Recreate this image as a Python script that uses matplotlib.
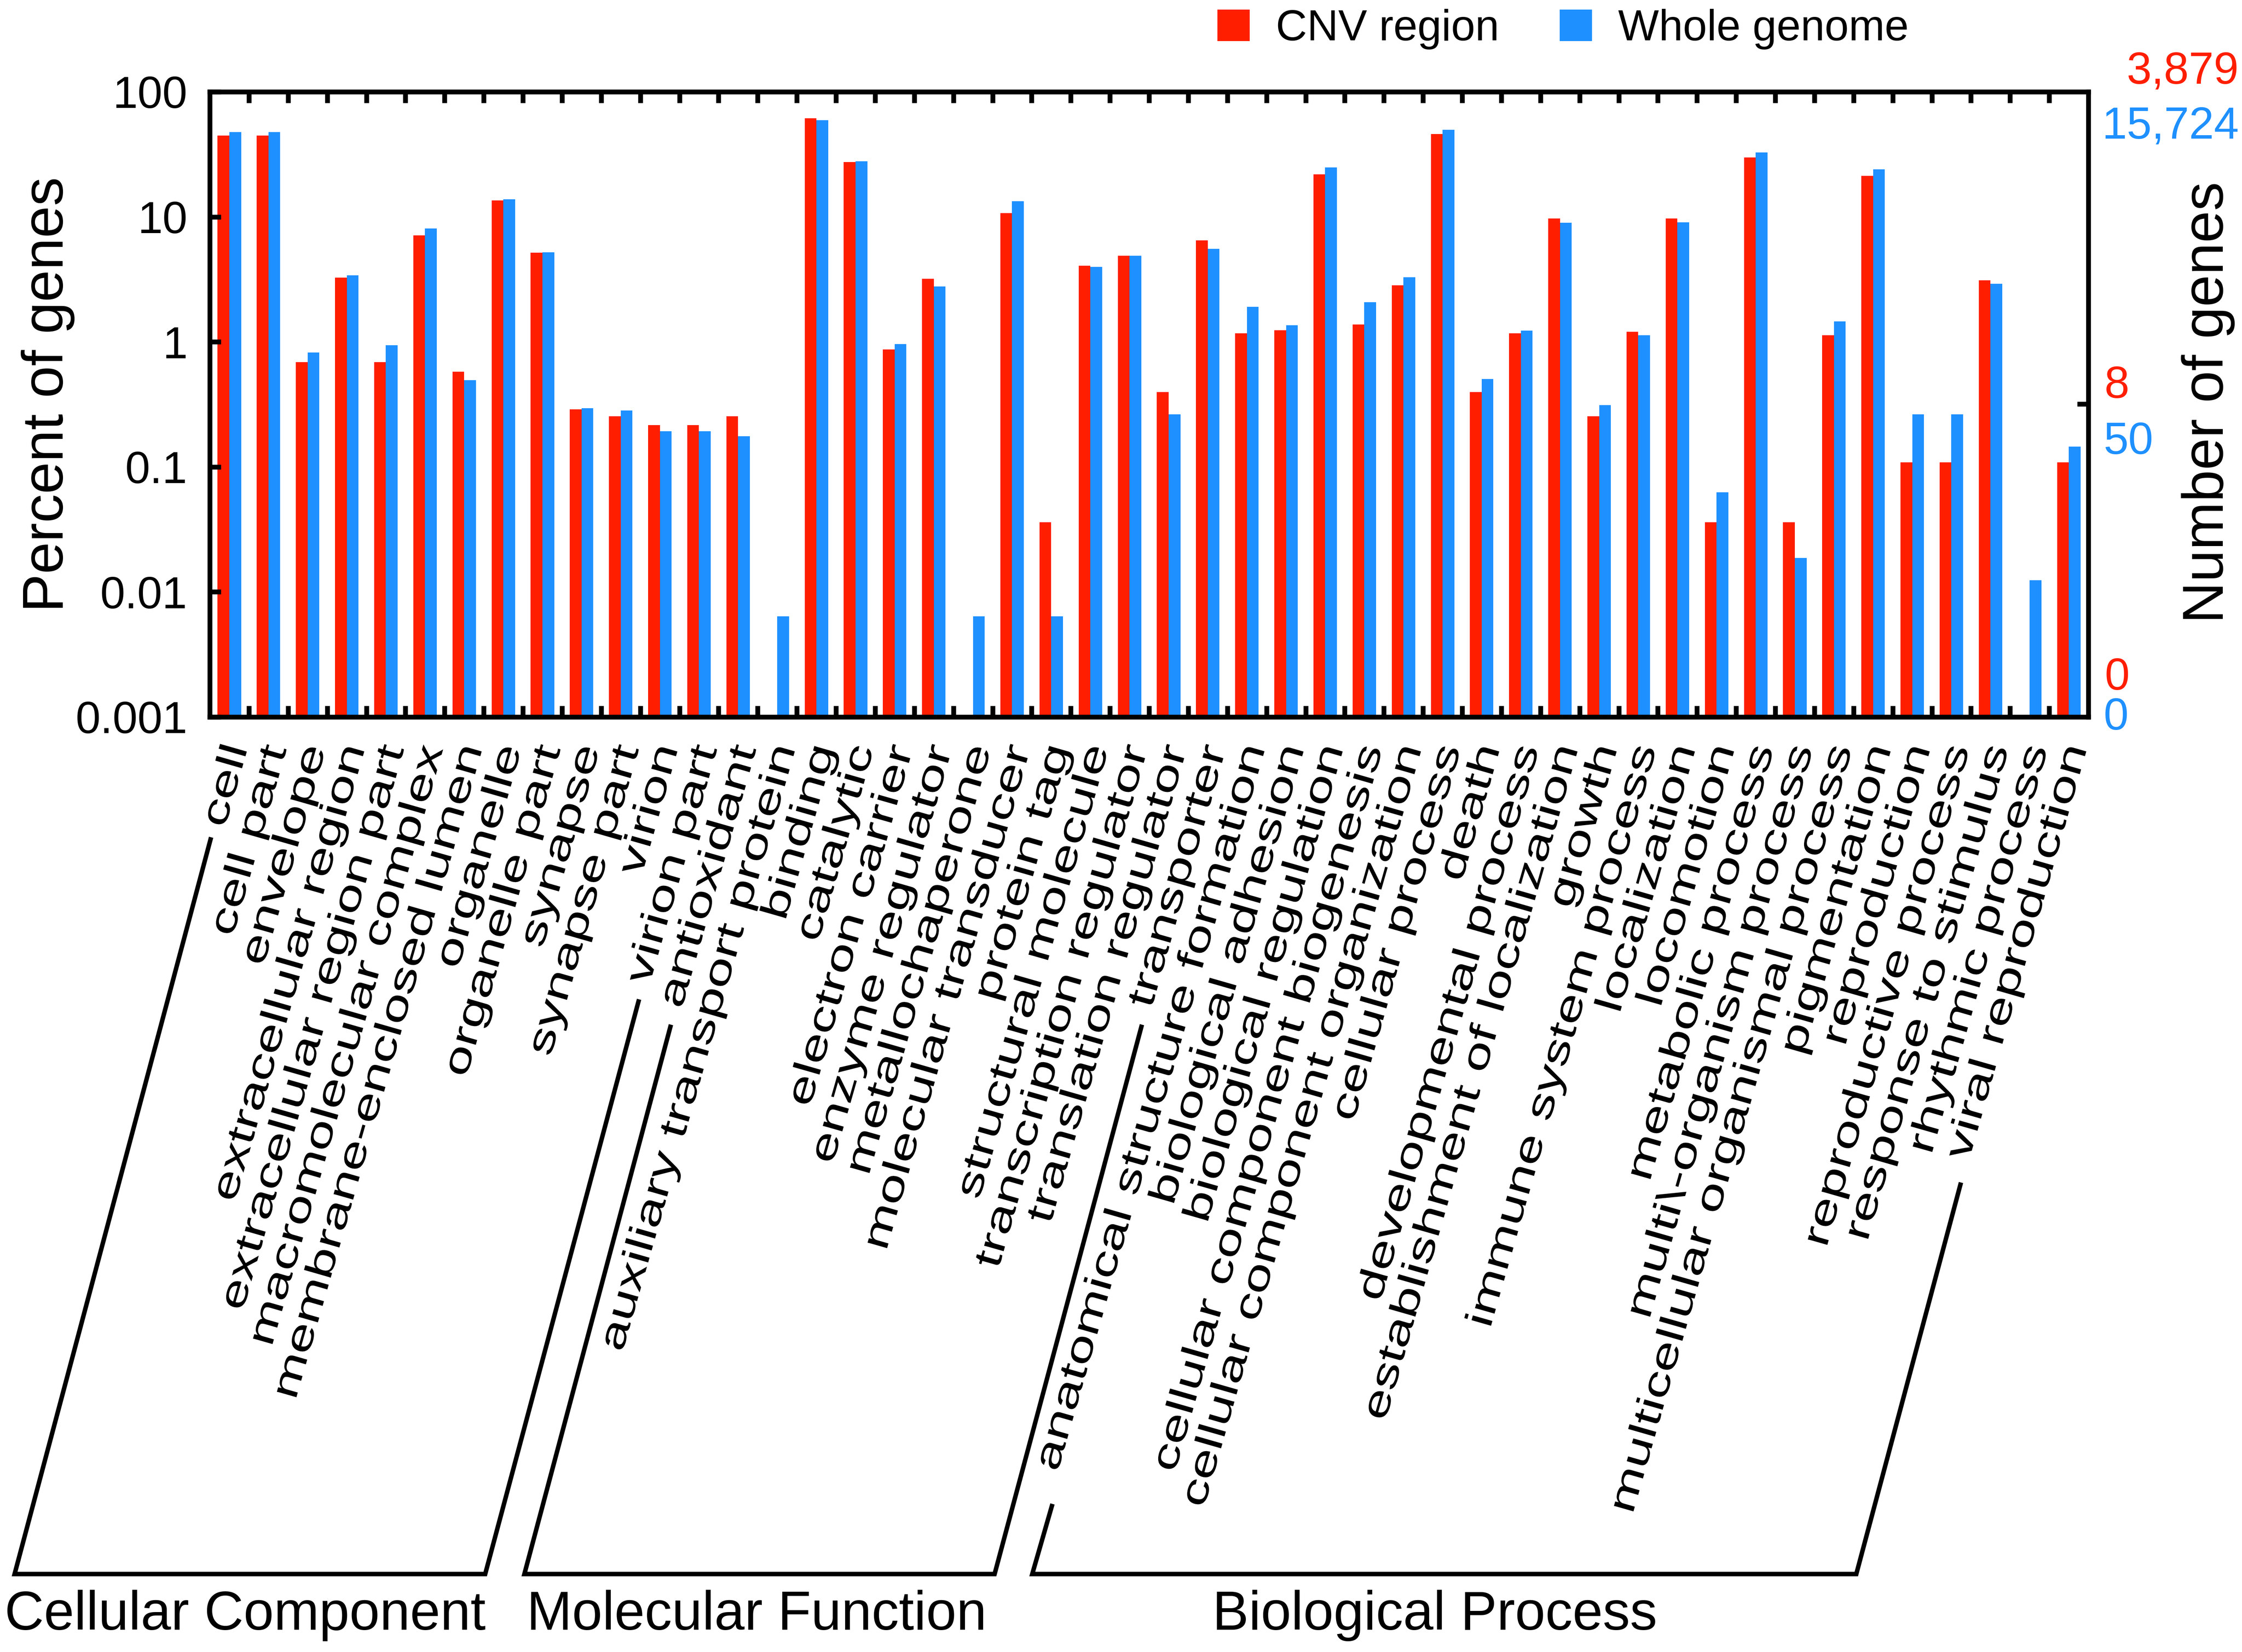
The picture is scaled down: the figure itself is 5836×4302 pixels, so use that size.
import numpy as np
import matplotlib
matplotlib.use("Agg")
import matplotlib.pyplot as plt
from matplotlib.lines import Line2D
from matplotlib.ticker import FixedLocator, NullLocator, FuncFormatter
from matplotlib.transforms import Affine2D
from matplotlib.patheffects import AbstractPathEffect

plt.rcParams['font.family'] = ['Liberation Sans', 'DejaVu Sans']

nan = np.nan

cc_terms = ['cell', 'cell part', 'envelope', 'extracellular region', 'extracellular region part',
            'macromolecular complex', 'membrane-enclosed lumen', 'organelle', 'organelle part',
            'synapse', 'synapse part', 'virion', 'virion part']
mf_terms = ['antioxidant', 'auxiliary transport protein', 'binding', 'catalytic', 'electron carrier',
            'enzyme regulator', 'metallochaperone', 'molecular transducer', 'protein tag',
            'structural molecule', 'transcription regulator', 'translation regulator', 'transporter']
bp_terms = ['anatomical structure formation', 'biological adhesion', 'biological regulation',
            'cellular component biogenesis', 'cellular component organization', 'cellular process',
            'death', 'developmental process', 'establishment of localization', 'growth',
            'immune system process', 'localization', 'locomotion', 'metabolic process',
            'multi\\-organism process', 'multicellular organismal process', 'pigmentation',
            'reproduction', 'reproductive process', 'response to stimulus', 'rhythmic process',
            'viral reproduction']
group_names = ['Cellular Component', 'Molecular Function', 'Biological Process']

cnv_pct = [44.8, 44.8, 0.69, 3.26, 0.69, 7.1, 0.578, 13.5, 5.18, 0.289, 0.254, 0.216, 0.216,
           0.254, nan, 61.4, 27.5, 0.872, 3.2, nan, 10.7, 0.036, 4.07, 4.87, 0.397, 6.46,
           1.17, 1.24, 21.8, 1.38, 2.84, 45.9, 0.397, 1.17, 9.66, 0.254, 1.20, 9.66, 0.036,
           29.9, 0.036, 1.13, 21.2, 0.109, 0.109, 3.10, nan, 0.109]
genome_pct = [47.5, 47.5, 0.82, 3.40, 0.94, 8.07, 0.495, 13.8, 5.2, 0.294, 0.282, 0.193, 0.193,
              0.176, 0.00636, 59.3, 27.9, 0.958, 2.77, 0.00636, 13.3, 0.00636, 3.97, 4.87, 0.263, 5.54,
              1.90, 1.36, 24.8, 2.07, 3.29, 49.6, 0.505, 1.23, 8.95, 0.312, 1.13, 9.0, 0.0625,
              32.6, 0.0187, 1.46, 23.9, 0.263, 0.263, 2.92, 0.0124, 0.145]

cnv_total = 3879
genome_total = 15724
yticks = [0.001, 0.01, 0.1, 1, 10, 100]

RED = '#FF1E00'
BLUE = '#1E90FF'


class Stretch(AbstractPathEffect):
    """widen glyphs along the baseline, keeping the right end fixed"""
    def __init__(self, sx):
        super().__init__()
        self.sx = sx

    def draw_path(self, renderer, gc, tpath, affine, rgbFace=None):
        x1 = tpath.get_extents().x1
        pre = Affine2D().translate(-x1, 0).scale(self.sx, 1).translate(x1, 0)
        renderer.draw_path(gc, tpath, pre + affine, rgbFace)


W, H = 5836, 4302
fig = plt.figure(figsize=(W / 300, H / 300), dpi=300)
ax = fig.add_axes([546 / W, 1 - 1867 / H, 4890 / W, 1628 / H])

terms = cc_terms + mf_terms + bp_terms
x = np.arange(len(terms))
bw = 0.3
b1 = ax.bar(x - bw / 2, cnv_pct, bw, color=RED, label='CNV region')
b2 = ax.bar(x + bw / 2, genome_pct, bw, color=BLUE, label='Whole genome')

ax.set_yscale('log')
ax.set_ylim(0.001, 100)
ax.set_xlim(-0.5, len(terms) - 0.5)
ax.yaxis.set_major_locator(FixedLocator(yticks))
ax.yaxis.set_minor_locator(NullLocator())
ax.yaxis.set_major_formatter(FuncFormatter(lambda v, p: '%g' % v))
ax.tick_params(axis='y', which='major', direction='in', length=7, width=3, labelsize=28, pad=14)

ax.set_xticks([])
ax.set_xticks(np.arange(0.5, len(terms) - 1, 1), minor=True)
ax.tick_params(axis='x', which='minor', direction='in', length=7, width=3, top=True, bottom=True)

# category labels, slanted
for i, t in enumerate(terms):
    ax.text(i + 0.22, -0.047, t, transform=ax.get_xaxis_transform(), rotation=74,
            rotation_mode='anchor', ha='right', va='center', fontsize=24,
            path_effects=[Stretch(1.46)])

for s in ax.spines.values():
    s.set_linewidth(3)

# right side: counts
ax2 = ax.twinx()
ax2.set_yscale('log')
ax2.set_ylim(0.001, 100)
ax2.yaxis.set_minor_locator(NullLocator())
ax2.set_yticks([50 / genome_total * 100])
ax2.set_yticklabels([''])
ax2.tick_params(axis='y', direction='in', length=7, width=3)
for s in ax2.spines.values():
    s.set_visible(False)

tr = ax.transAxes
ax.text(1.0802, 1.0129, f'{cnv_total:,}', color=RED, fontsize=28, ha='right', va='baseline', transform=tr)
ax.text(1.0802, 0.925, f'{genome_total:,}', color=BLUE, fontsize=28, ha='right', va='baseline', transform=tr)
ax.text(1.0086, 0.5104, '8', color=RED, fontsize=28, ha='left', va='baseline', transform=tr)
ax.text(1.008, 0.4208, '50', color=BLUE, fontsize=28, ha='left', va='baseline', transform=tr)
ax.text(1.0086, 0.0436, '0', color=RED, fontsize=28, ha='left', va='baseline', transform=tr)
ax.text(1.008, -0.020, '0', color=BLUE, fontsize=28, ha='left', va='baseline', transform=tr)

fig.text(125 / W, 1 - 1027 / H, 'Percent of genes', rotation=90, fontsize=36, ha='center', va='center')
fig.text(5748 / W, 1 - 1048 / H, 'Number of genes', rotation=90, fontsize=36, ha='center', va='center')

fig.legend(handles=[b1, b2], labels=['CNV region', 'Whole genome'], loc='center left',
           bbox_to_anchor=(3169 / W, 1 - 76 / H), ncol=2, frameon=False, fontsize=27,
           handlelength=0.75, handleheight=0.75, handletextpad=0.6, columnspacing=1.4,
           borderpad=0, borderaxespad=0)

# group brackets
brackets = [
    [(548, 2186), (38, 4099), (1263, 4099), (1662, 2608)],
    [(1745, 2674), (1365, 4099), (2589, 4099), (2971, 2674)],
    [(2738, 3922), (2687, 4099), (4832, 4099), (5103, 3085)],
]
for pts in brackets:
    xs = [p[0] / W for p in pts]
    ys = [1 - p[1] / H for p in pts]
    fig.add_artist(Line2D(xs, ys, transform=fig.transFigure, color='black', lw=2.8,
                          solid_joinstyle='miter'))

for name, cx in zip(group_names, [638, 1970, 3735]):
    fig.text(cx / W, 1 - 4207 / H, name, fontsize=34, ha='center', va='center')

fig.savefig('out.png', dpi=300)
